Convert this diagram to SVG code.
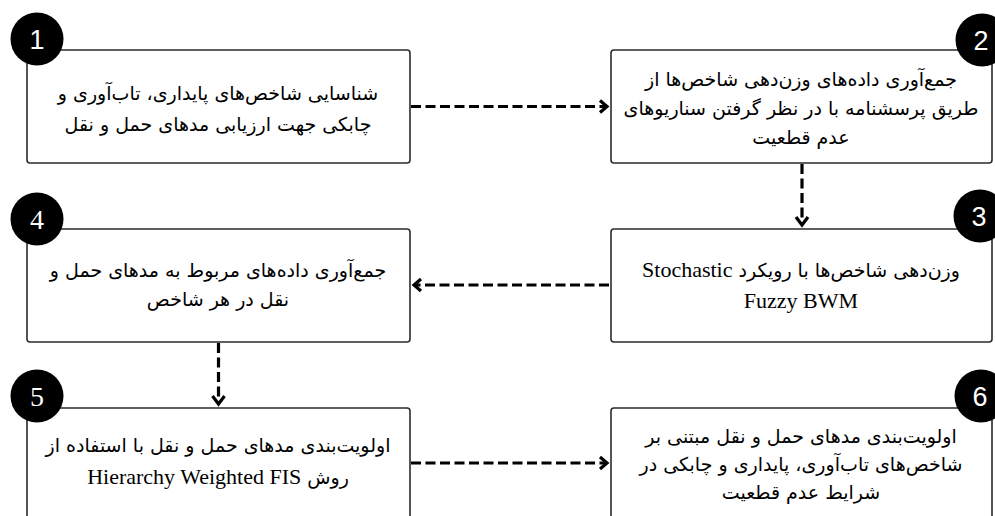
<svg xmlns="http://www.w3.org/2000/svg" width="995" height="516" viewBox="0 0 995 516">
<style>
.box{fill:#fff;stroke:#2b2b2b;stroke-width:1.6}
.badge{fill:#000}
.num{fill:#fff;font-family:"Liberation Sans",sans-serif;font-size:27px;text-anchor:middle}
.nums{fill:#fff;font-family:"Liberation Serif",serif;font-size:28px;text-anchor:middle}
.t{font-family:"DejaVu Sans","Noto Sans",sans-serif;font-size:19px;fill:#000;text-anchor:middle;direction:rtl}
.lat{font-family:"Liberation Serif",serif;font-size:22px}
.con{fill:none;stroke:#000;stroke-width:3.2;stroke-dasharray:10 4.5}
.head{fill:none;stroke:#000;stroke-width:3.2;stroke-linejoin:miter}
</style>
<rect width="995" height="516" fill="#fff"/>
<g id="connectors">
<line class="con" x1="411" y1="106.5" x2="606" y2="106.5"/>
<polyline class="head" points="600,100.5 607,106.5 600,112.5"/>
<line class="con" x1="802" y1="164" x2="802" y2="224"/>
<polyline class="head" points="796,217 802,225 808,217"/>
<line class="con" x1="609" y1="285" x2="416" y2="285"/>
<polyline class="head" points="421,279 414,285 421,291"/>
<line class="con" x1="218.5" y1="343" x2="218.5" y2="403"/>
<polyline class="head" points="212.5,396 218.5,404 224.5,396"/>
<line class="con" x1="411" y1="463" x2="606" y2="463"/>
<polyline class="head" points="600,457 607,463 600,469"/>
</g>
<g id="node1">
<rect class="box" x="27" y="50" width="383" height="113" rx="3"/>
<circle class="badge" cx="37" cy="39" r="26.5"/>
<text class="num" x="37" y="49">1</text>
<text class="t" x="218" y="100">شناسایی شاخص‌های پایداری، تاب‌آوری و</text>
<text class="t" x="218" y="131">چابکی جهت ارزیابی مدهای حمل و نقل</text>
</g>
<g id="node2">
<rect class="box" x="611" y="50" width="381" height="113" rx="3"/>
<circle class="badge" cx="982" cy="40" r="26.5"/>
<text class="num" x="981" y="50">2</text>
<text class="t" x="801" y="86">جمع‌آوری داده‌های وزن‌دهی شاخص‌ها از</text>
<text class="t" x="801" y="115">طریق پرسشنامه با در نظر گرفتن سناریوهای</text>
<text class="t" x="801" y="144">عدم قطعیت</text>
</g>
<g id="node3">
<rect class="box" x="611" y="229" width="381" height="113" rx="3"/>
<circle class="badge" cx="980" cy="216" r="26.5"/>
<text class="num" x="979" y="226">3</text>
<text class="t" x="801" y="277">وزن‌دهی شاخص‌ها با رویکرد  <tspan class="lat">Stochastic</tspan></text>
<text class="t" x="801" y="308"><tspan class="lat">Fuzzy BWM</tspan></text>
</g>
<g id="node4">
<rect class="box" x="27" y="229" width="383" height="113" rx="3"/>
<circle class="badge" cx="37" cy="219" r="26.5"/>
<text class="nums" x="37" y="229">4</text>
<text class="t" x="218" y="277">جمع‌آوری داده‌های مربوط به مدهای حمل و</text>
<text class="t" x="218" y="306">نقل در هر شاخص</text>
</g>
<g id="node5">
<rect class="box" x="27" y="408" width="383" height="113" rx="3"/>
<circle class="badge" cx="37" cy="396" r="26.5"/>
<text class="nums" x="37" y="406">5</text>
<text class="t" x="218" y="452">اولویت‌بندی مدهای حمل و نقل با استفاده از</text>
<text class="t" x="218" y="484">روش <tspan class="lat">Hierarchy Weighted FIS</tspan></text>
</g>
<g id="node6">
<rect class="box" x="611" y="408" width="381" height="113" rx="3"/>
<circle class="badge" cx="981" cy="396" r="26.5"/>
<text class="num" x="980" y="406">6</text>
<text class="t" x="801" y="443">اولویت‌بندی مدهای حمل و نقل مبتنی بر</text>
<text class="t" x="801" y="471">شاخص‌های تاب‌آوری، پایداری و چابکی در</text>
<text class="t" x="801" y="499">شرایط عدم قطعیت</text>
</g>
</svg>
